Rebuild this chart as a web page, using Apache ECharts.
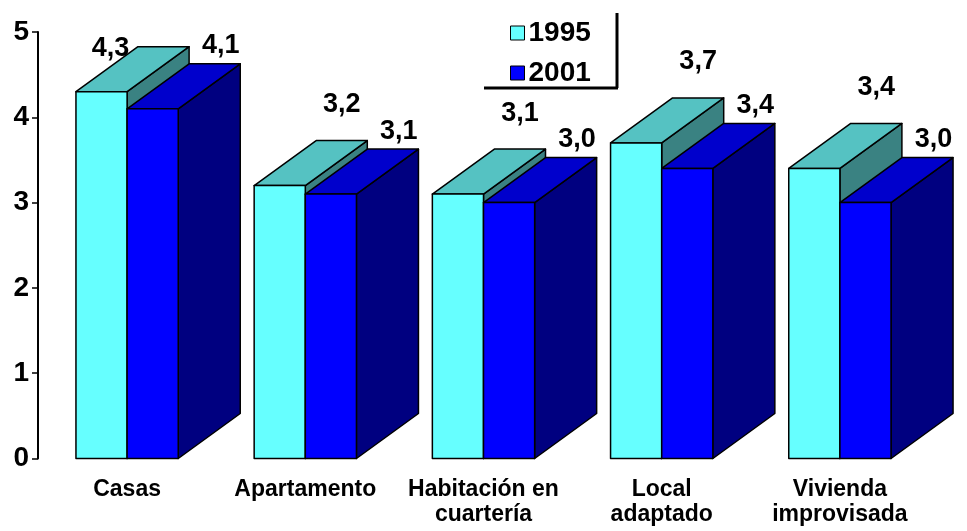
<!DOCTYPE html>
<html>
<head>
<meta charset="utf-8">
<script src="https://cdn.jsdelivr.net/npm/echarts@6/dist/echarts.min.js"></script>
<style>
  html, body { margin: 0; padding: 0; background: #fff; }
  #main { width: 967px; height: 531px; }
</style>
</head>
<body>
<div id="main"></div>
<script>
// datos
var categorias = ['Casas', 'Apartamento', 'Habitación en\ncuartería', 'Local\nadaptado', 'Vivienda\nimprovisada'];
var anios = ['1995', '2001'];
var valores1995 = [4.3, 3.2, 3.1, 3.7, 3.4];
var valores2001 = [4.1, 3.1, 3.0, 3.4, 3.0];
var ticksY = [0, 1, 2, 3, 4, 5];

var fuente = '"Liberation Sans", Arial, sans-serif';

// colores: frente, arriba, lado
var colores = [
  { frente: '#66FFFF', arriba: '#55C2C2', lado: '#3A8282' },
  { frente: '#0000FF', arriba: '#0000CC', lado: '#000080' }
];

// barra 3D dibujada a mano (frente + arriba + lado)
function barra3d(serie) {
  return function (params, api) {
    var cat = api.value(0), val = api.value(1);
    var base = api.coord([cat, 0]);
    var tope = api.coord([cat, val]);
    var banda = api.size([1, 0])[0];
    var w = banda * 0.287;
    var x0 = base[0] + (serie === 0 ? -w : 0);
    var x1 = x0 + w;
    var dx = 62, dy = -45;
    var c = colores[serie];
    var borde = { stroke: '#000', lineWidth: 1.5, lineJoin: 'round' };
    var etiqueta = serie === 0
      ? { x: x0 + w / 2 + dx, y: tope[1] + dy - 36 }
      : { x: x0 + w / 2 + dx + 6, y: tope[1] + dy - 18 };
    // si la etiqueta se sale por arriba, se baja junto a la cara superior
    if (etiqueta.y < 40) {
      etiqueta = { x: x0 + w / 2 + 9, y: tope[1] + dy + 2 };
    }
    return {
      type: 'group',
      children: [
        {
          type: 'polygon',
          shape: { points: [[x1, tope[1]], [x1 + dx, tope[1] + dy], [x1 + dx, base[1] + dy], [x1, base[1]]] },
          style: Object.assign({ fill: c.lado }, borde)
        },
        {
          type: 'polygon',
          shape: { points: [[x0, tope[1]], [x1, tope[1]], [x1 + dx, tope[1] + dy], [x0 + dx, tope[1] + dy]] },
          style: Object.assign({ fill: c.arriba }, borde)
        },
        {
          type: 'rect',
          shape: { x: x0, y: tope[1], width: w, height: base[1] - tope[1] },
          style: Object.assign({ fill: c.frente }, borde)
        },
        {
          type: 'text',
          x: etiqueta.x,
          y: etiqueta.y,
          z2: 10,
          style: {
            text: val.toFixed(1).replace('.', ','),
            fill: '#000',
            font: 'bold 27px ' + fuente,
            align: 'center',
            verticalAlign: 'middle'
          }
        }
      ]
    };
  };
}

var chart = echarts.init(document.getElementById('main'));

chart.setOption({
  backgroundColor: '#fff',
  animation: false,
  grid: { left: 38, right: 38, top: 32, bottom: 72.5 },
  legend: {
    orient: 'vertical',
    left: 505,
    top: 14,
    itemWidth: 14,
    itemHeight: 14,
    itemGap: 12,
    icon: 'rect',
    itemStyle: { borderColor: '#000', borderWidth: 1 },
    textStyle: { fontSize: 28, fontWeight: 'bold', color: '#000', fontFamily: fuente, padding: [0, 0, 0, -1] },
    data: anios
  },
  graphic: [
    { type: 'line', shape: { x1: 617, y1: 13, x2: 617, y2: 88 }, style: { stroke: '#000', lineWidth: 3 } },
    { type: 'line', shape: { x1: 484, y1: 88, x2: 618, y2: 88 }, style: { stroke: '#000', lineWidth: 3 } }
  ],
  xAxis: {
    type: 'category',
    data: categorias,
    axisLine: { show: false },
    axisTick: { show: false },
    axisLabel: {
      interval: 0,
      margin: 19,
      fontSize: 23,
      fontWeight: 'bold',
      lineHeight: 25,
      color: '#000',
      fontFamily: fuente
    }
  },
  yAxis: {
    type: 'value',
    min: ticksY[0],
    max: ticksY[ticksY.length - 1],
    interval: 1,
    splitLine: { show: false },
    axisLine: { show: true, lineStyle: { color: '#000', width: 2 } },
    axisTick: { show: true, length: 6, lineStyle: { color: '#000', width: 1.5 } },
    axisLabel: {
      margin: 9,
      fontSize: 28,
      fontWeight: 'bold',
      color: '#000',
      fontFamily: fuente
    }
  },
  series: [
    {
      name: anios[0],
      type: 'custom',
      renderItem: barra3d(0),
      itemStyle: { color: colores[0].frente },
      encode: { x: 0, y: 1 },
      data: valores1995.map(function (v, i) { return [i, v]; })
    },
    {
      name: anios[1],
      type: 'custom',
      renderItem: barra3d(1),
      itemStyle: { color: colores[1].frente },
      encode: { x: 0, y: 1 },
      data: valores2001.map(function (v, i) { return [i, v]; })
    }
  ]
});
</script>
</body>
</html>
